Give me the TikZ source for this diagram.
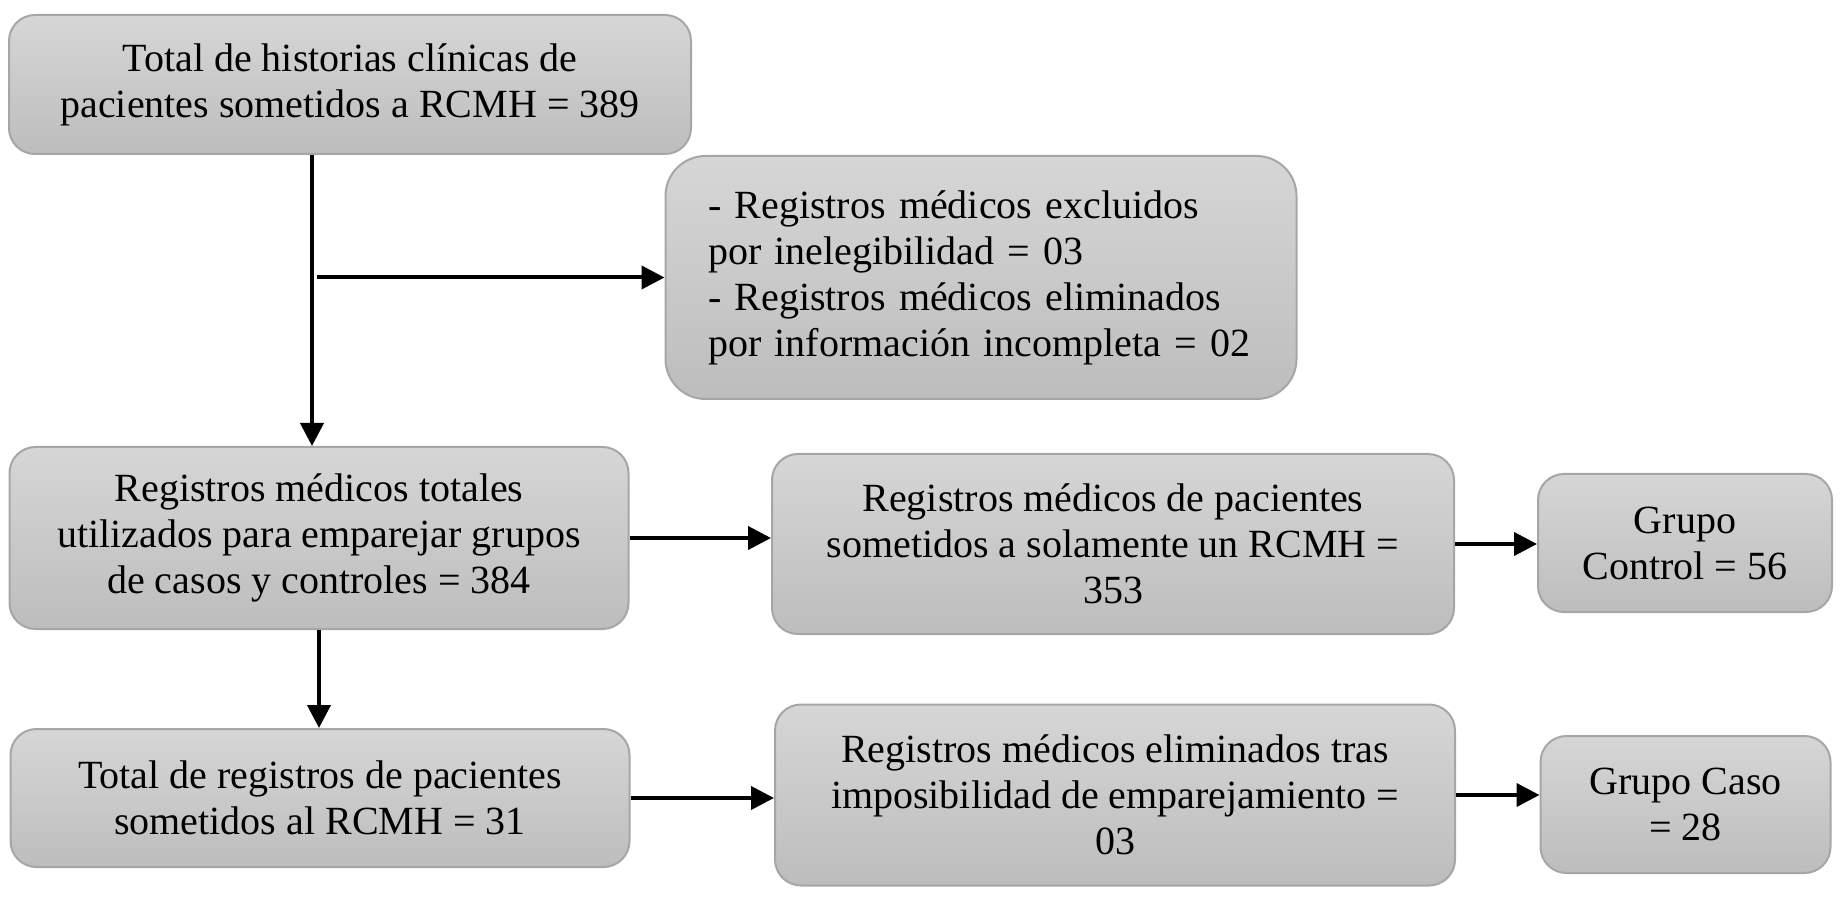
\documentclass[tikz,border=0pt]{standalone}
\usepackage{fontspec}
\setmainfont{Liberation Serif}
\usetikzlibrary{positioning}
\usetikzlibrary{calc}
\usetikzlibrary{arrows.meta}
\definecolor{boxtop}{HTML}{D6D6D6}
\definecolor{boxbot}{HTML}{BDBDBD}
\definecolor{boxline}{HTML}{A6A6A6}

\begin{document}
\begin{tikzpicture}[x=0.5pt,y=-0.5pt]

		\tikzset{box/.style = {shape=rectangle,rounded corners=13pt,draw=boxline,line width=1pt,top color=boxtop,bottom color=boxbot,align=center,inner sep=0pt,font=\fontsize{20}{23}\selectfont}}
		\tikzset{edge/.style = {-{Triangle[length=11.5pt,width=11.5pt]},line width=2pt}}
		\useasboundingbox (0,0) rectangle (1848,898);
		% boxes
		\node[box, minimum width=341pt, minimum height=69.5pt] (tot) at (350,84.5) {Total de historias clínicas de\\pacientes sometidos a RCMH = 389};
		\node[box, minimum width=315.5pt, minimum height=121.5pt, rounded corners=20pt, align=left, text width=273pt] (excl) at (981,277.5) {- Registros médicos excluidos\\por inelegibilidad = 03\\- Registros médicos eliminados\\por información incompleta = 02};
		\node[box, minimum width=309.5pt, minimum height=91pt] (usad) at (319,538) {Registros médicos totales\\utilizados para emparejar grupos\\de casos y controles = 384};
		\node[box, minimum width=341pt, minimum height=90pt] (solo) at (1113,544) {Registros médicos de pacientes\\sometidos a solamente un RCMH =\\353};
		\node[box, minimum width=147pt, minimum height=69pt] (ctrl) at (1685,543) {Grupo\\Control = 56};
		\node[box, minimum width=309.5pt, minimum height=69pt] (rcmh) at (320,798) {Total de registros de pacientes\\sometidos al RCMH = 31};
		\node[box, minimum width=340pt, minimum height=90.5pt] (elim) at (1115,795) {Registros médicos eliminados tras\\imposibilidad de emparejamiento =\\03};
		\node[box, minimum width=145pt, minimum height=68.5pt] (caso) at (1685.5,804.5) {Grupo Caso\\= 28};

		\coordinate (trunk) at (312,0);

		%edges
		\draw[edge] (tot.south -| trunk) -- (usad.north -| trunk);

		\draw[edge] ([xshift=2.5pt]trunk |- excl.west) -- (excl.west);

		\draw[edge] (usad.east) -- (usad.east -| solo.west);

		\draw[edge] (solo.east) -- (solo.east -| ctrl.west);

		\draw[edge] (usad.south) -- (rcmh.north -| usad.south);

		\draw[edge] (rcmh.east) -- (rcmh.east -| elim.west);

		\draw[edge] (elim.east) -- (elim.east -| caso.west);

\end{tikzpicture}
\end{document}
